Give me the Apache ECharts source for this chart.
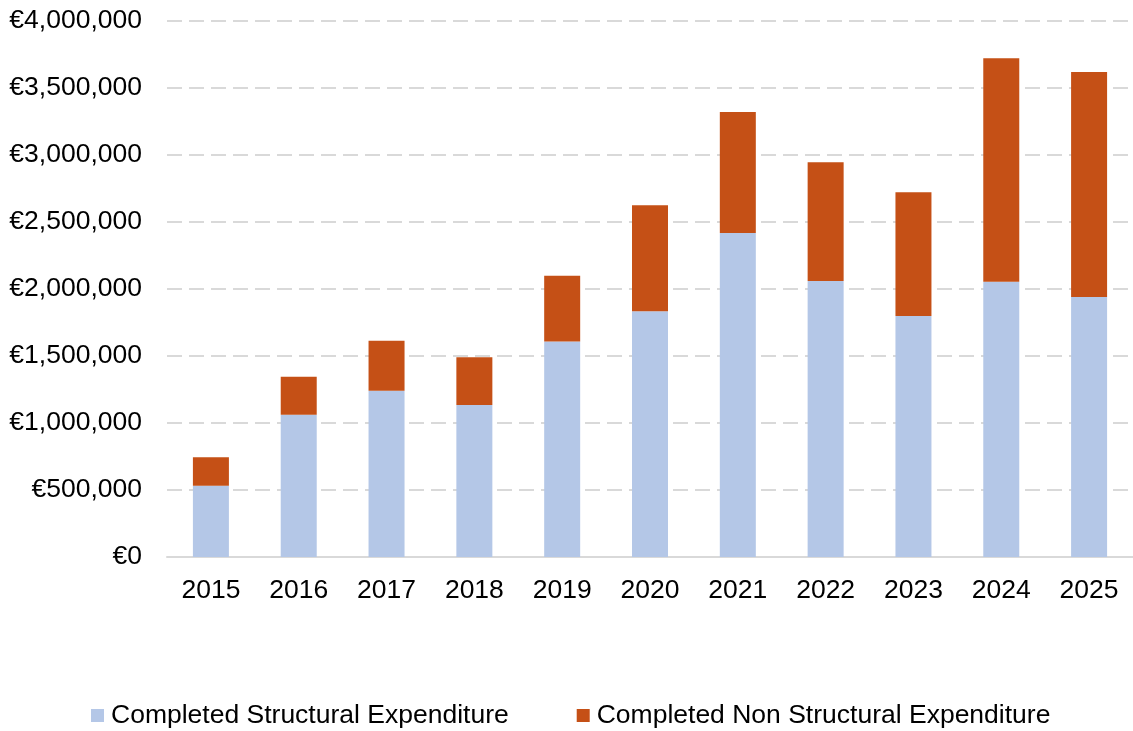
<!DOCTYPE html>
<html>
<head>
<meta charset="utf-8">
<script src="https://cdn.jsdelivr.net/npm/echarts@6/dist/echarts.min.js"></script>
<style>
html,body{margin:0;padding:0;background:#fff;}
#chart{width:1133px;height:731px;}
</style>
</head>
<body>
<div id="chart"></div>
<script>
const years = ['2015','2016','2017','2018','2019','2020','2021','2022','2023','2024','2025'];
const structural = [532000, 1062000, 1241000, 1134000, 1609000, 1834000, 2418000, 2060000, 1799000, 2055000, 1940000];
const nonStructural = [212000, 283000, 373000, 356000, 490000, 791000, 903000, 886000, 923000, 1667000, 1679000];
const seriesNames = ['Completed Structural Expenditure', 'Completed Non Structural Expenditure'];

const font = 'Liberation Sans, Arial, sans-serif';
const chart = echarts.init(document.getElementById('chart'), null, {renderer: 'canvas'});
chart.setOption({
  animation: false,
  backgroundColor: '#ffffff',
  grid: {left: 167, top: 21, height: 536, width: 971, containLabel: false},
  legend: {
    left: 91, top: 702, padding: 0,
    itemWidth: 13, itemHeight: 13, itemGap: 68,
    icon: 'rect',
    textStyle: {fontFamily: font, fontSize: 26.5, color: '#000', padding: [0,0,0,2]},
    data: seriesNames
  },
  xAxis: {
    type: 'category',
    data: years,
    axisLine: {show: true, lineStyle: {color: '#d9d9d9', width: 2}},
    axisTick: {show: false},
    axisLabel: {fontFamily: font, fontSize: 26.5, color: '#000', margin: 20}
  },
  yAxis: {
    type: 'value',
    min: 0, max: 4000000, interval: 500000,
    axisLine: {show: false},
    axisTick: {show: false},
    splitLine: {show: true, lineStyle: {color: '#d9d9d9', width: 2, type: [15, 7]}},
    axisLabel: {
      fontFamily: font, fontSize: 26.5, color: '#000', margin: 25,
      formatter: v => '€' + v.toLocaleString('en-US')
    }
  },
  series: [
    {name: seriesNames[0], type: 'bar', stack: 'total', data: structural, barWidth: 36,
     itemStyle: {color: '#b4c7e7'}},
    {name: seriesNames[1], type: 'bar', stack: 'total', data: nonStructural, barWidth: 36,
     itemStyle: {color: '#c55016'}}
  ]
});
</script>
</body>
</html>
